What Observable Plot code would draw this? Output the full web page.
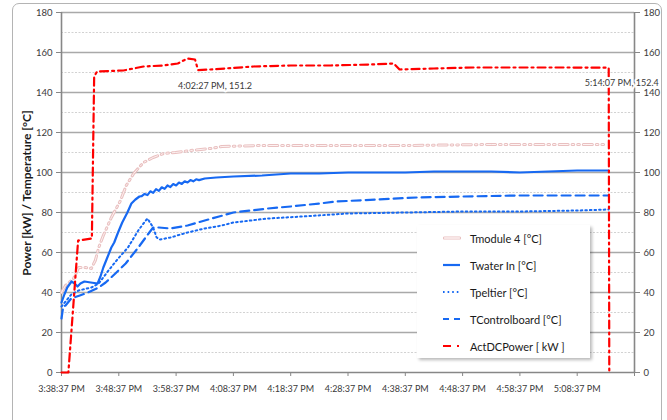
<!DOCTYPE html>
<html>
<head>
<meta charset="utf-8">
<script src="https://cdn.jsdelivr.net/npm/d3@7"></script>
<script src="https://cdn.jsdelivr.net/npm/@observablehq/plot@0.6"></script>
<style>
  body { margin: 0; background: #fff; }
  #chart { position: relative; width: 667px; height: 420px; font-family: Lato, "Open Sans", sans-serif; overflow: hidden; }
  #chart > svg { position: absolute; left: 0; top: 0; }
  .frame { position: absolute; left: 12px; top: 3px; width: 650px; height: 440px; border: 1px solid #b4b4b4; border-radius: 7px; box-sizing: border-box; }
  .legend { position: absolute; left: 417px; top: 225px; width: 173px; height: 133px; background: #fff;
            box-shadow: 2px 2px 3px rgba(0,0,0,0.28); }
  .legend .row { position: absolute; left: 26px; height: 14px; display: flex; align-items: center; font-size: 11px; color: #1a1a1a; white-space: nowrap; }
  .legend .row svg { display: block; margin-right: 9px; }
</style>
</head>
<body>
<div id="chart">
  <div class="frame"></div>
</div>
<script>
// Test run starting 3:38:37 PM; times are minutes after the start.
const startSeconds = 15 * 3600 + 38 * 60 + 37;
const xTicks = [0, 10, 20, 30, 40, 50, 60, 70, 80, 90, 100];
const majorY = [20, 40, 60, 80, 100, 120, 140, 160, 180];
const minorY = [10, 30, 50, 70, 90, 110, 130, 150, 170];
const yTicks = [0, 20, 40, 60, 80, 100, 120, 140, 160, 180];
const yTitle = "Power [kW] / Temperature [°C]";

// [minutes, °C]
const tModule4 = [
  [0, 40], [0.7, 43.5], [2.1, 47], [3, 52.5], [4.2, 52.5], [5.2, 52], [5.9, 56], [6.5, 62.5],
  [7.3, 68.5], [8.7, 77.5], [10.3, 86], [11.3, 93.5], [12.6, 99.5], [14.3, 105], [16, 107.5],
  [17.8, 109.5], [19.9, 110], [22.5, 111], [26, 112], [28, 113], [35, 113.5], [45, 113.5],
  [60, 113.5], [75, 114], [90, 114], [95, 114]
];
const twaterIn = [
  [0, 35], [0.5, 39], [1, 42.5], [1.75, 45.5], [2.3, 44.5], [2.8, 43], [3.3, 44.5], [4, 45.5],
  [5.1, 45], [6.3, 44.5], [6.8, 48], [7.3, 52.5], [8, 57.5], [8.7, 62.5], [9.2, 65], [9.8, 69.5],
  [10.6, 75], [11.5, 80], [12.2, 84.5], [12.9, 86.5], [13.6, 88], [14, 88.2], [14.5, 89.3],
  [15, 88.7], [15.5, 90.6], [16, 89.8], [16.5, 91.7], [17, 90.8], [17.5, 92.6], [18, 91.8], [18.5, 93.5],
  [19, 92.7], [19.5, 94.2], [20, 93.5], [20.5, 95], [21, 94.3], [21.5, 95.6], [22, 95],
  [22.5, 96.2], [23, 95.6], [23.5, 96.6], [24, 96.2], [25, 97], [27, 97.5], [30, 98], [35, 98.5],
  [40, 99.5], [45, 99.5], [50, 100], [55, 100], [60, 100], [65, 100.5], [70, 100.5], [75, 100.5],
  [80, 100], [85, 100.5], [90, 101], [95.5, 101]
];
const tPeltier = [
  [0, 33], [1.7, 39], [3, 41], [5.2, 42.5], [6.5, 44.5], [8.2, 51], [9.9, 57], [11.6, 62.5],
  [13.4, 71], [14.3, 74.5], [15, 77], [16, 72.5], [16.6, 67.5], [17.2, 66.5], [19, 67.5],
  [22, 70], [25, 72], [28, 73.5], [30, 75], [36, 77], [42, 78], [50, 79.5], [60, 80], [70, 80.5],
  [80, 80.5], [90, 81], [95.5, 81.5]
];
const tControlboard = [
  [0, 27], [0.3, 33], [0.7, 33.5], [1.7, 37], [3.2, 38.5], [4.6, 40], [6.5, 42.5], [7.7, 45],
  [9.4, 49.5], [11.2, 54.5], [13.4, 62.5], [15.2, 69.5], [16, 72.5], [17, 72.5], [19, 72],
  [22, 73.5], [25, 76], [27.5, 78], [30, 80], [33, 81], [36, 82], [40, 83], [45, 84.5],
  [48, 85.5], [55, 86.5], [62, 87.5], [70, 88], [80, 88.5], [95.5, 88.5]
];
// [minutes, kW]
const actDCPower = [
  [0, 0], [1.2, 0], [2.9, 66], [5.3, 67], [5.7, 148], [6.2, 150.5], [10.8, 151], [14.3, 153],
  [17.8, 153.5], [20.3, 154.5], [21.3, 156], [22, 157], [23.3, 156.5], [23.833, 151.2],
  [26, 151.5], [33.5, 153], [40, 153.5], [47, 153.5], [54, 154], [58, 154.5], [59, 151.5],
  [65, 152], [72, 152.5], [80, 152.5], [88, 152.5], [95.5, 152.4], [95.6, 0]
];
// Labelled power readings: 4:02:27 PM and 5:14:07 PM
const labelled = [actDCPower[13], actDCPower[25]];
const labelOffsets = [[17, 16], [13, 15]];

const pad = n => String(n).padStart(2, "0");
function clock(m) {
  const s = Math.round(startSeconds + m * 60);
  const h = Math.floor(s / 3600), mi = Math.floor((s % 3600) / 60), se = s % 60;
  const h12 = h % 12 === 0 ? 12 : h % 12;
  return `${h12}:${pad(mi)}:${pad(se)} ${h >= 12 ? "PM" : "AM"}`;
}

const series = [
  {name: "Tmodule 4 [°C]", data: tModule4},
  {name: "Twater In [°C]", data: twaterIn, stroke: "#1769f2", width: 2.2, dash: null},
  {name: "Tpeltier [°C]", data: tPeltier, stroke: "#1769f2", width: 2, dash: "1.6,3"},
  {name: "TControlboard [°C]", data: tControlboard, stroke: "#1769f2", width: 2.2, dash: "9,5"},
  {name: "ActDCPower [ kW ]", data: actDCPower, stroke: "#ff0000", width: 2.2, dash: "8,4,2,4"}
];
const pinkOuter = "#e9c0c0", pinkInner = "#fdf2f2", pinkDash = "9,4,1.6,4,1.6,4";

const X = d => d[0], Y = d => d[1];
const axisGrey = "#878787";

const plot = Plot.plot({
  width: 667,
  height: 420,
  marginLeft: 61,
  marginRight: 33,
  marginTop: 12,
  marginBottom: 48,
  style: {fontFamily: "Lato, 'Open Sans', sans-serif", fontSize: "9.5px", color: "#3a3a3a", background: "transparent"},
  x: {domain: [0, 100]},
  y: {domain: [0, 180]},
  marks: [
    Plot.ruleY(minorY, {stroke: "#d2d2d2", strokeDasharray: "2,1.5", strokeWidth: 1}),
    Plot.ruleY(majorY, {stroke: "#a9a9a9", strokeWidth: 1.3}),
    Plot.axisY({anchor: "left", ticks: yTicks, tickSize: 5, tickPadding: 4, label: null, stroke: axisGrey}),
    Plot.axisY({anchor: "right", ticks: yTicks, tickSize: 5, tickPadding: 4, label: null, stroke: axisGrey}),
    Plot.axisX({ticks: xTicks, tickFormat: m => (m === 100 ? "" : clock(m)), tickSize: 4, tickPadding: 9,
                label: null, stroke: axisGrey, fontSize: 9}),
    Plot.ruleX([0, 100], {stroke: axisGrey, strokeWidth: 1.6}),
    Plot.ruleY([0], {stroke: axisGrey, strokeWidth: 1.6}),
    // Module temperature: hollow pale-pink dash-dot-dot trace
    Plot.line(tModule4, {x: X, y: Y, stroke: pinkOuter, strokeWidth: 3, strokeDasharray: pinkDash}),
    Plot.line(tModule4, {x: X, y: Y, stroke: pinkInner, strokeWidth: 1, strokeDasharray: pinkDash}),
    ...series.slice(1).map(s =>
      Plot.line(s.data, {x: X, y: Y, stroke: s.stroke, strokeWidth: s.width, strokeDasharray: s.dash,
                         strokeLinejoin: "round"})),
    Plot.text(labelled, {x: X, y: Y, text: d => `${clock(d[0])}, ${d[1]}`, fontSize: 9, fill: "#3a3a3a",
                         stroke: "white", strokeWidth: 4, paintOrder: "stroke"})
  ]
});

const chart = document.getElementById("chart");
chart.appendChild(plot);

// Place the two power labels beside their readings
d3.select(plot).selectAll("text").filter(function () {
  return /PM, \d/.test(this.textContent);
}).each(function (_, i) {
  const [dx, dy] = labelOffsets[i];
  const el = d3.select(this);
  el.attr("transform", (el.attr("transform") || "") + ` translate(${dx},${dy})`);
});

// Vertical axis title, centred on the plot area
d3.select(plot).append("text")
  .attr("transform", "translate(31,193) rotate(-90)")
  .attr("text-anchor", "middle")
  .attr("font-family", "Lato, 'Open Sans', sans-serif")
  .attr("font-weight", "bold")
  .attr("font-size", 12)
  .attr("fill", "#1a1a1a")
  .text(yTitle);

// Legend box drawn over the plot area
const legend = document.createElement("div");
legend.className = "legend";
const rowTops = [6, 33, 60, 87, 114];
series.forEach((s, i) => {
  const row = document.createElement("div");
  row.className = "row";
  row.style.top = rowTops[i] + "px";
  const sw = d3.create("svg").attr("width", 18).attr("height", 8);
  if (i === 0) {
    sw.append("line").attr("x1", 1.5).attr("x2", 16.5).attr("y1", 4).attr("y2", 4)
      .attr("stroke", pinkOuter).attr("stroke-width", 3.2).attr("stroke-linecap", "round");
    sw.append("line").attr("x1", 1.5).attr("x2", 16.5).attr("y1", 4).attr("y2", 4)
      .attr("stroke", pinkInner).attr("stroke-width", 1.3).attr("stroke-linecap", "round");
  } else {
    sw.append("line").attr("x1", 0).attr("x2", 17).attr("y1", 4).attr("y2", 4)
      .attr("stroke", s.stroke).attr("stroke-width", s.width)
      .attr("stroke-dasharray", i === 4 ? "8,6,2,4" : i === 3 ? "6,5" : s.dash);
  }
  row.appendChild(sw.node());
  row.appendChild(document.createTextNode(s.name));
  legend.appendChild(row);
});
chart.appendChild(legend);
</script>
</body>
</html>
